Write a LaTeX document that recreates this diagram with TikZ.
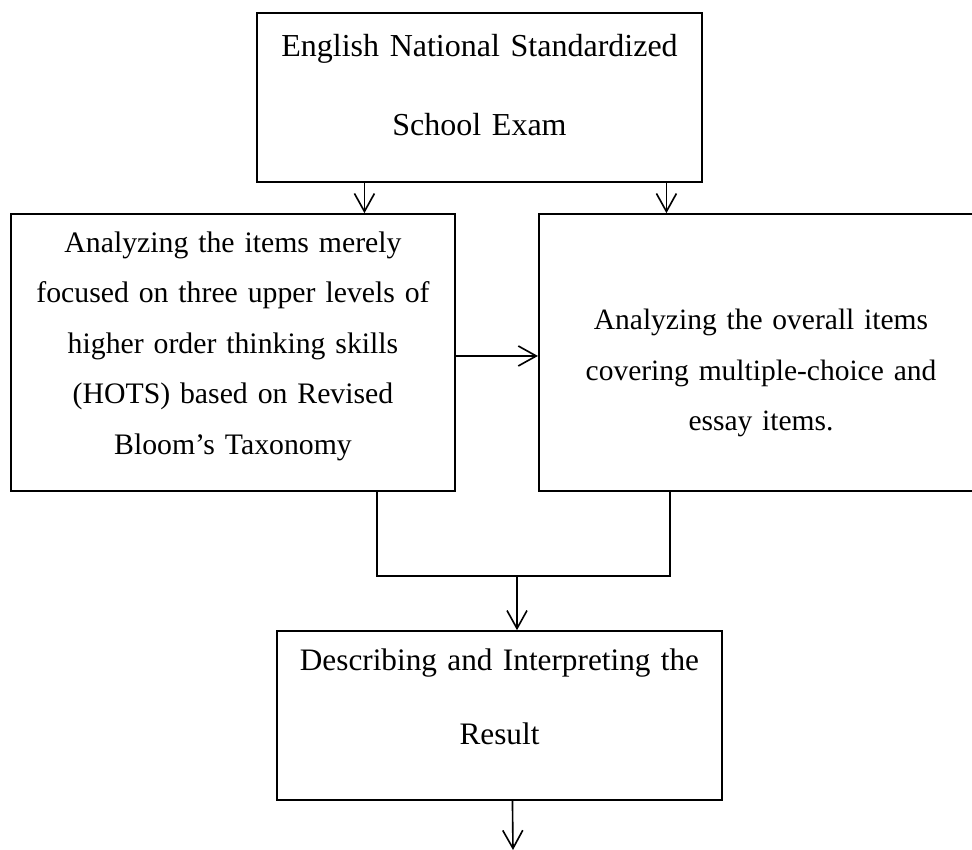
\documentclass[tikz,border=0pt]{standalone}
\usepackage{fontspec}
\setmainfont{Liberation Serif}
\usetikzlibrary{arrows.meta}
\begin{document}
\begin{tikzpicture}[x=0.4pt,y=-0.4pt,
  box/.style={draw, line width=0.65pt, inner sep=0pt, minimum width=177.8pt},
  txt/.style={anchor=base, text width=176pt, align=center, inner sep=0pt},
  arr/.style={line width=0.65pt, -{Straight Barb[length=7.2pt,width=8pt]}},
  ln/.style={line width=0.65pt}]
\useasboundingbox (0,0) rectangle (972,850);
\clip (0,0) rectangle (972,850);
% boxes
\node[box, minimum height=67.6pt] (top) at (479.5,97.5) {};
\node[box, minimum height=110.8pt] (L) at (233,352.5) {};
\node[box, minimum height=110.8pt] (R) at (761,352.5) {};
\node[box, minimum height=67.6pt] (B) at (499.5,715.5) {};
% texts
\node[txt, font=\fontsize{12.8pt}{31.6pt}\selectfont] (ttop) at (479.5,57)
  {English National Standardized\\School Exam};
\node[txt, font=\fontsize{11.9pt}{20.2pt}\selectfont] (tL) at (233,252.3)
  {Analyzing the items merely\\focused on three upper levels of\\higher order thinking skills\\(HOTS) based on Revised\\Bloom’s Taxonomy};
\node[txt, font=\fontsize{11.8pt}{20.2pt}\selectfont] (tR) at (761,330)
  {Analyzing the overall items\\covering multiple-choice and\\essay items.};
\node[txt, font=\fontsize{12.5pt}{29.7pt}\selectfont] (tB) at (499.5,670.7)
  {Describing and Interpreting the\\Result};
% connectors
\coordinate (t1) at ([xshift=43.2pt]top.south west);
\draw[arr] (t1) -- (t1 |- L.north);
\coordinate (t2) at ([xshift=164pt]top.south west);
\draw[arr] (t2) -- (t2 |- R.north);
\draw[arr] ([yshift=-1.4pt]L.east) -- ([yshift=-1.4pt]R.west);
\coordinate (l1) at ([xshift=146.8pt]L.south west);
\coordinate (r1) at ([xshift=52.8pt]R.south west);
\coordinate (j) at (517,576);
\draw[ln] (l1) -- (l1 |- j) -- (j -| r1) -- (r1);
\draw[arr] (j) -- (j |- B.north);
\coordinate (b1) at ([xshift=94.4pt]B.south west);
\coordinate (bend) at (513,850);
\draw[arr] (b1) -- (bend);
\end{tikzpicture}
\end{document}
